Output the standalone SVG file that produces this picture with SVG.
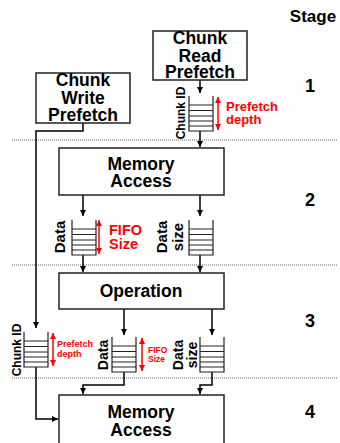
<svg xmlns="http://www.w3.org/2000/svg" width="340" height="443" viewBox="0 0 340 443">
<style>
text{font-family:"Liberation Sans",Arial,sans-serif;font-weight:bold;fill:#000}
.box{fill:#fff;stroke:#222;stroke-width:1.5}
.big{font-size:17.5px;text-anchor:middle}
.num{font-size:18px;text-anchor:middle}
.red{fill:#ff0000}
.conn{fill:none;stroke:#000;stroke-width:1.5}
.redarr{stroke:#ff0000;stroke-width:1.5}
.dot{stroke:#666;stroke-width:1;stroke-dasharray:1 1}
.fifo{fill:none;stroke:#222;stroke-width:1.2}
.rot{text-anchor:middle}
</style>
<defs>
<marker id="ah" viewBox="0 0 6 6" refX="6" refY="3" markerWidth="6" markerHeight="6" markerUnits="userSpaceOnUse" orient="auto">
<path d="M0,0 L6,3 L0,6 z" fill="#000"/>
</marker>
<marker id="rh" viewBox="0 0 6 6" refX="6" refY="3" markerWidth="6" markerHeight="6" markerUnits="userSpaceOnUse" orient="auto-start-reverse">
<path d="M0,0 L6,3 L0,6 z" fill="#ff0000"/>
</marker>
<g id="fifo">
<path class="fifo" d="M0,0 V35 H24 V0 M0,9 H24 M0,14.5 H24 M0,20 H24 M0,25 H24 M0,30 H24"/>
</g>
</defs>

<text x="313" y="22" style="font-size:17px" text-anchor="middle">Stage</text>

<g id="separators">
<line class="dot" x1="12" y1="140" x2="337" y2="140"/>
<line class="dot" x1="12" y1="265" x2="337" y2="265"/>
<line class="dot" x1="12" y1="378" x2="337" y2="378"/>
</g>

<g id="stage-numbers">
<text class="num" x="310" y="92">1</text>
<text class="num" x="310" y="206">2</text>
<text class="num" x="310" y="327">3</text>
<text class="num" x="310" y="418">4</text>
</g>

<g id="connectors">
<path class="conn" d="M83,123 V131 H36 V328" marker-end="url(#ah)"/>
<path class="conn" d="M200,80 V93" marker-end="url(#ah)"/>
<path class="conn" d="M200,131 V147" marker-end="url(#ah)"/>
<path class="conn" d="M83,195 V216" marker-end="url(#ah)"/>
<path class="conn" d="M200,195 V216" marker-end="url(#ah)"/>
<path class="conn" d="M83,255 V272" marker-end="url(#ah)"/>
<path class="conn" d="M200,255 V272" marker-end="url(#ah)"/>
<path class="conn" d="M124,309 V335" marker-end="url(#ah)"/>
<path class="conn" d="M212,309 V335" marker-end="url(#ah)"/>
<path class="conn" d="M36,367 V419 H58" marker-end="url(#ah)"/>
<path class="conn" d="M124,372 V385 H83 V394" marker-end="url(#ah)"/>
<path class="conn" d="M212,372 V385 H200 V394" marker-end="url(#ah)"/>
</g>

<g id="chunk-read-prefetch">
<rect class="box" x="153" y="31" width="94" height="49"/>
<text class="big" x="200" y="44">Chunk</text>
<text class="big" x="200" y="61.5">Read</text>
<text class="big" x="200" y="78">Prefetch</text>
</g>

<g id="chunk-write-prefetch">
<rect class="box" x="36" y="73" width="94" height="50"/>
<text class="big" x="83" y="86">Chunk</text>
<text class="big" x="83" y="103.5">Write</text>
<text class="big" x="83" y="121">Prefetch</text>
</g>

<g id="fifo-s1-chunkid">
<use href="#fifo" x="189" y="96"/>
<text class="rot" style="font-size:12px" transform="translate(185,113) rotate(-90)">Chunk ID</text>
<line class="redarr" x1="218" y1="97" x2="218" y2="130" marker-start="url(#rh)" marker-end="url(#rh)"/>
<text class="red" style="font-size:13px" x="226" y="111">Prefetch</text>
<text class="red" style="font-size:13px" x="226" y="124">depth</text>
</g>

<g id="memory-access-1">
<rect class="box" x="59" y="148" width="165" height="47"/>
<text class="big" x="141" y="170">Memory</text>
<text class="big" x="141" y="187">Access</text>
</g>

<g id="fifo-s2-data">
<use href="#fifo" x="72" y="220"/>
<text class="rot" style="font-size:15px" transform="translate(65,237) rotate(-90)">Data</text>
<line class="redarr" x1="99" y1="220" x2="99" y2="254" marker-start="url(#rh)" marker-end="url(#rh)"/>
<text class="red" style="font-size:14.5px" x="109" y="235">FIFO</text>
<text class="red" style="font-size:14.5px" x="109" y="249">Size</text>
</g>

<g id="fifo-s2-size">
<use href="#fifo" x="189" y="220"/>
<text class="rot" style="font-size:15px" transform="translate(167,237) rotate(-90)">Data</text>
<text class="rot" style="font-size:15px" transform="translate(183,237) rotate(-90)">size</text>
</g>

<g id="operation">
<rect class="box" x="59" y="273" width="165" height="36"/>
<text class="big" x="141" y="297">Operation</text>
</g>

<g id="fifo-s3-chunkid">
<use href="#fifo" x="24" y="332"/>
<text class="rot" style="font-size:12px" transform="translate(21,350) rotate(-90)">Chunk ID</text>
<line class="redarr" x1="53" y1="333" x2="53" y2="366" marker-start="url(#rh)" marker-end="url(#rh)"/>
<text class="red" style="font-size:9px" x="57" y="347">Prefetch</text>
<text class="red" style="font-size:9px" x="57" y="356.5">depth</text>
</g>

<g id="fifo-s3-data">
<use href="#fifo" x="112" y="337"/>
<text class="rot" style="font-size:14px" transform="translate(108,355) rotate(-90)">Data</text>
<line class="redarr" x1="142" y1="338" x2="142" y2="371" marker-start="url(#rh)" marker-end="url(#rh)"/>
<text class="red" style="font-size:8.5px" x="148" y="353">FIFO</text>
<text class="red" style="font-size:8.5px" x="148" y="362">Size</text>
</g>

<g id="fifo-s3-size">
<use href="#fifo" x="200" y="337"/>
<text class="rot" style="font-size:14px" transform="translate(183,355) rotate(-90)">Data</text>
<text class="rot" style="font-size:14px" transform="translate(197,355) rotate(-90)">size</text>
</g>

<g id="memory-access-2">
<rect class="box" x="59" y="395" width="165" height="55"/>
<text class="big" x="141" y="418">Memory</text>
<text class="big" x="141" y="436">Access</text>
</g>
</svg>
